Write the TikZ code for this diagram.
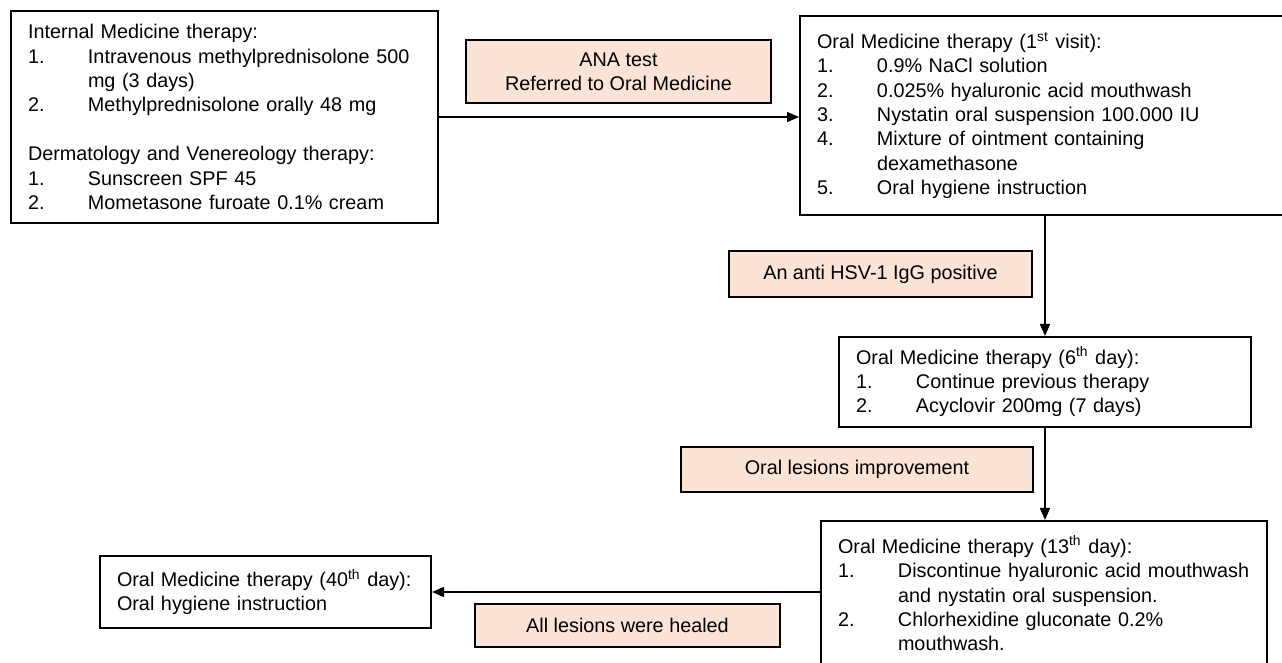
\documentclass[tikz,border=0pt]{standalone}
\usepackage{fontspec}
\setmainfont{Liberation Sans}
\usetikzlibrary{arrows.meta,calc}
\definecolor{peach}{RGB}{251,228,214}
\newcommand{\nr}[1]{\makebox[30pt][l]{#1}}
\newcommand{\cont}{\hspace*{30pt}}
\tikzset{
	therapy/.style={draw, line width=1pt, anchor=north west, align=left,
		inner xsep=8.5pt, inner ysep=0pt, font=\fontsize{9.9pt}{12.2pt}\selectfont},
	finding/.style={draw, line width=1pt, fill=peach, align=center,
		inner sep=0pt, font=\fontsize{9.9pt}{12.2pt}\selectfont},
	flow/.style={line width=0.75pt, -{Triangle[length=6pt,width=5pt]}}
}

\begin{document}
\begin{tikzpicture}[x=0.5pt, y=-0.5pt]
		%%%%% START %%%%%
		
		\useasboundingbox (0, 0) rectangle (1282, 663);
		
		% therapy boxes
		\node[therapy, text width=196.5pt, minimum height=106pt] (internal) at (10, 10)
		{Internal Medicine therapy:\\
			\nr{1.}Intravenous methylprednisolone 500\\
			\cont mg (3 days)\\
			\nr{2.}Methylprednisolone orally 48 mg\\[12.2pt]
			Dermatology and Venereology therapy:\\
			\nr{1.}Sunscreen SPF 45\\
			\nr{2.}Mometasone furoate 0.1\% cream};
		
		\node[therapy, text width=228pt, minimum height=99.5pt] (visit1) at (799, 15)
		{Oral Medicine therapy (1\textsuperscript{st} visit):\\
			\nr{1.}0.9\% NaCl solution\\
			\nr{2.}0.025\% hyaluronic acid mouthwash\\
			\nr{3.}Nystatin oral suspension 100.000 IU\\
			\nr{4.}Mixture of ointment containing\\
			\cont dexamethasone\\
			\nr{5.}Oral hygiene instruction};
		
		\node[therapy, text width=189pt, minimum height=45pt] (day6) at (838, 336)
		{Oral Medicine therapy (6\textsuperscript{th} day):\\
			\nr{1.}Continue previous therapy\\
			\nr{2.}Acyclovir 200mg (7 days)};
		
		\node[therapy, text width=206pt, minimum height=72.5pt] (day13) at (820, 520)
		{Oral Medicine therapy (13\textsuperscript{th} day):\\
			\nr{1.}Discontinue hyaluronic acid mouthwash\\
			\cont and nystatin oral suspension.\\
			\nr{2.}Chlorhexidine gluconate 0.2\%\\
			\cont mouthwash.};
		
		\node[therapy, text width=148.5pt, minimum height=36pt] (day40) at (99, 555)
		{Oral Medicine therapy (40\textsuperscript{th} day):\\
			Oral hygiene instruction};
		
		% findings
		\node[finding, minimum width=152.5pt, minimum height=31.5pt] (ana) at (618.5, 71.5)
		{ANA test\\ Referred to Oral Medicine};
		\node[finding, minimum width=151.5pt, minimum height=23pt] (hsv) at (880.5, 274)
		{An anti HSV-1 IgG positive};
		\node[finding, minimum width=176pt, minimum height=22.5pt] (improve) at (857, 469.5)
		{Oral lesions improvement};
		\node[finding, minimum width=152.5pt, minimum height=21.5pt] (healed) at (627.5, 625.5)
		{All lesions were healed};
		
		% flow
		\draw[flow] (internal.east) -- (internal.east -| visit1.west);
		\draw[flow] (visit1.south) -- (visit1.south |- day6.north);
		\draw[flow] (day6.south) -- (day6.south |- day13.north);
		\draw[flow] (day40.east -| day13.west) -- (day40.east);
		
		%%%%% END %%%%%
\end{tikzpicture}
\end{document}
